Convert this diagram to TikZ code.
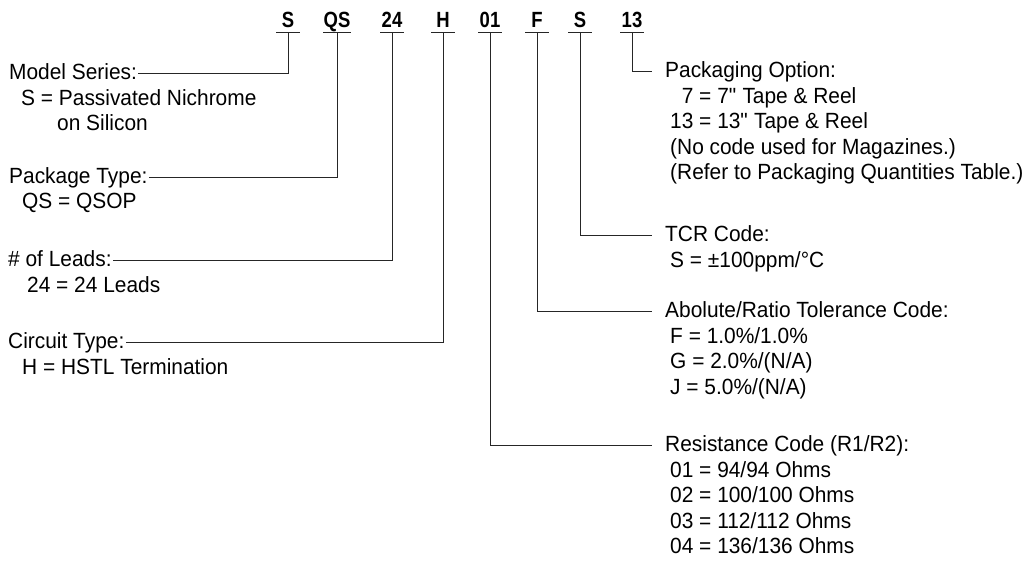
\documentclass[tikz,border=0pt]{standalone}
\usepackage{fontspec}
\setmainfont[FakeStretch=0.95]{Liberation Sans}
\newfontfamily\codefont[FakeStretch=0.84]{Liberation Sans}
\usetikzlibrary{positioning}

\begin{document}
\begin{tikzpicture}[
    x=1pt, y=-1pt,
    lead line/.style={black!85, line width=0.8pt},
    code/.style={font=\codefont\bfseries\fontsize{22}{25}\selectfont, anchor=base,
        inner xsep=0pt, inner ysep=5pt, minimum width=23pt, text depth=0pt},
    head left/.style={font=\fontsize{22}{25.5}\selectfont, anchor=base west,
        inner xsep=1pt, text height=15pt, text depth=3pt},
    head right/.style={head left, inner xsep=13pt}
]

\tikzset{body/.style={font=\fontsize{22}{25.5}\selectfont, align=left, anchor=north west, inner sep=0pt}}

\useasboundingbox (0,0) rectangle (1033,563);

% --- 1. Part number codes ---
\foreach \n/\x/\t in {cS/288/S, cQS/337/QS, c24/392/24, cH/443/H,
                      c01/490/01, cF/537/F, cS2/580/S, c13/632/13}{
    \node[code] (\n) at (\x,27) {\t};
    \draw[lead line] (\n.south west) -- (\n.south east);
}

% --- 2. Left column ---
\node[head left] (ms) at (8,79.5) {Model Series:};
\node[body] (msb) at ([xshift=13pt, yshift=-9.7pt]ms.base west)
    {S = Passivated Nichrome\\\hspace*{36pt}on Silicon};

\node[head left] (pt) at (8,183.5) {Package Type:};
\node[body] (ptb) at ([xshift=14pt, yshift=-9.7pt]pt.base west) {QS = QSOP};

\node[head left] (nl) at (7,266.5) {\# of Leads:};
\node[body] (nlb) at ([xshift=20pt, yshift=-9.7pt]nl.base west) {24 = 24 Leads};

\node[head left] (ct) at (7,348.5) {Circuit Type:};
\node[body] (ctb) at ([xshift=15pt, yshift=-9.7pt]ct.base west) {H = HSTL Termination};

% --- 3. Right column ---
\node[head right] (po) at (652,77.5) {Packaging Option:};
\node[body] (pob) at ([xshift=18pt, yshift=-9.7pt]po.base west)
    {\hphantom{1}7 = 7\textquotedbl{} Tape \& Reel\\
     13 = 13\textquotedbl{} Tape \& Reel\\
     (No code used for Magazines.)\\
     (Refer to Packaging Quantities Table.)};

\node[head right] (tcr) at (652,241.5) {TCR Code:};
\node[body] (tcrb) at ([xshift=18pt, yshift=-9.7pt]tcr.base west) {S = ±100ppm/°C};

\node[head right] (tol) at (652,317.5) {Abolute/Ratio Tolerance Code:};
\node[body] (tolb) at ([xshift=18pt, yshift=-9.7pt]tol.base west)
    {F = 1.0\%/1.0\%\\G = 2.0\%/(N/A)\\J = 5.0\%/(N/A)};

\node[head right] (res) at (652,451.5) {Resistance Code (R1/R2):};
\node[body] (resb) at ([xshift=18pt, yshift=-9.7pt]res.base west)
    {01 = 94/94 Ohms\\02 = 100/100 Ohms\\03 = 112/112 Ohms\\04 = 136/136 Ohms};

% --- 4. Lead lines ---
\draw[lead line] (cS.south) |- (ms.east);
\draw[lead line] (cQS.south) |- (pt.east);
\draw[lead line] (c24.south) |- (nl.east);
\draw[lead line] (cH.south) |- (ct.east);

\draw[lead line] (c13.south) |- (po.west);
\draw[lead line] (cS2.south) |- (tcr.west);
\draw[lead line] (cF.south) |- (tol.west);
\draw[lead line] (c01.south) |- (res.west);

\end{tikzpicture}
\end{document}
